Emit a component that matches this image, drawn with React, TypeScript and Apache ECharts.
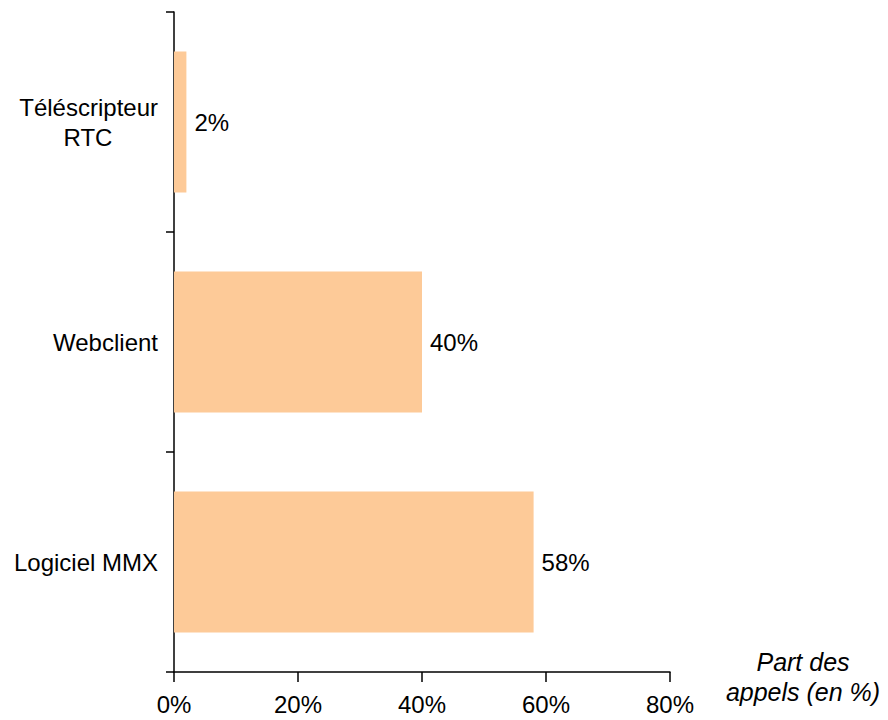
import React, { useEffect, useRef } from "react";
import * as echarts from "echarts";

const categories = ["Logiciel MMX", "Webclient", "Téléscripteur RTC"];
const shares = [58, 40, 2];
const xTicks = [0, 20, 40, 60, 80];

export default function App() {
  const ref = useRef<HTMLDivElement>(null);
  useEffect(() => {
    if (!ref.current) return;
    const chart = echarts.init(ref.current, undefined, { renderer: "svg" });
    const font = "'Liberation Sans', Arial, Helvetica, sans-serif";
    chart.setOption({
      animation: false,
      backgroundColor: "#ffffff",
      textStyle: { fontFamily: font },
      grid: {
        left: 174,
        top: 12,
        width: 496,
        height: 660,
        containLabel: false,
        outerBoundsMode: "none",
      },
      xAxis: {
        type: "value",
        min: xTicks[0],
        max: xTicks[xTicks.length - 1],
        interval: 20,
        splitLine: { show: false },
        axisLine: { show: true, lineStyle: { color: "#000", width: 1.5 } },
        axisTick: { show: true, length: 10, lineStyle: { color: "#000", width: 1.5 } },
        axisLabel: {
          formatter: "{value}%",
          color: "#000",
          fontSize: 24,
          fontFamily: font,
          margin: 20,
        },
        name: "{s|}\n{n|Part des}\n{n|appels (en %)}",
        nameLocation: "end",
        nameGap: 133,
        nameTextStyle: {
          fontStyle: "italic",
          fontSize: 25,
          color: "#000",
          fontFamily: font,
          align: "center",
          verticalAlign: "middle",
          rich: {
            s: { lineHeight: 10, fontSize: 10 },
            n: {
              fontStyle: "italic",
              fontSize: 25,
              color: "#000",
              fontFamily: font,
              lineHeight: 30,
            },
          },
        },
      },
      yAxis: {
        type: "category",
        data: categories,
        axisLine: { show: true, lineStyle: { color: "#000", width: 1.5 } },
        axisTick: { show: true, length: 8, alignWithLabel: false, lineStyle: { color: "#000", width: 1.5 } },
        axisLabel: {
          color: "#000",
          fontSize: 24,
          fontFamily: font,
          margin: 16,
          formatter: (v: string) => {
            if (v === "Téléscripteur RTC") return "{a|Téléscripteur}\n{b|RTC}";
            return v;
          },
          rich: {
            a: { fontSize: 24, fontFamily: font, color: "#000", lineHeight: 30 },
            b: { fontSize: 24, fontFamily: font, color: "#000", lineHeight: 30, width: 140, align: "center" },
          },
        },
      },
      series: [
        {
          type: "bar",
          data: shares,
          barCategoryGap: "36%",
          itemStyle: { color: "#FDCA98" },
          label: {
            show: true,
            position: "right",
            distance: 8,
            formatter: "{c}%",
            color: "#000",
            fontSize: 24,
            fontFamily: font,
          },
        },
      ],
    });
    return () => chart.dispose();
  }, []);
  return (
    <div
      ref={ref}
      style={{ position: "fixed", left: 0, top: 0, width: 888, height: 720 }}
    />
  );
}
